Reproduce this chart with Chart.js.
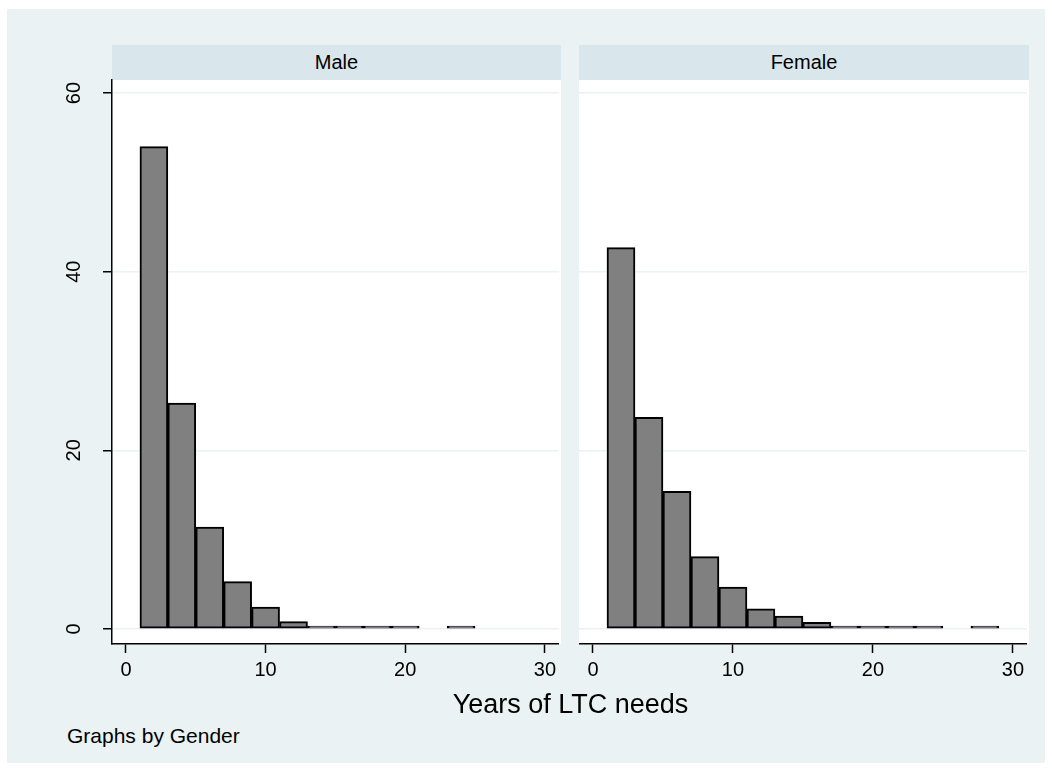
<!DOCTYPE html>
<html><head><meta charset="utf-8">
<script src="https://cdn.jsdelivr.net/npm/chart.js@4.4.1/dist/chart.umd.min.js"></script>
<style>
html,body{margin:0;padding:0;background:#fff;width:1052px;height:772px;overflow:hidden;font-family:"Liberation Sans",Arial,sans-serif;}
#bg{position:absolute;left:7px;top:9px;width:1038px;height:754px;background:#eaf2f3;}
.strip{position:absolute;top:45px;height:35px;background:#d9e6eb;color:#000;font-size:20px;text-align:center;line-height:35px;}
.plotbg{position:absolute;top:80px;height:564px;background:#fff;}
canvas{position:absolute;}
.txt{position:absolute;color:#000;white-space:nowrap;}
</style></head><body>
<div id="bg"></div>
<div class="strip" style="left:112px;width:449px">Male</div>
<div class="strip" style="left:579px;width:450px">Female</div>
<div class="plotbg" style="left:112px;width:449px"></div>
<div class="plotbg" style="left:579px;width:450px"></div>
<canvas id="male" width="541" height="630" style="left:20px;top:70px"></canvas>
<canvas id="female" width="450" height="630" style="left:579px;top:70px"></canvas>
<div class="txt" style="left:112px;width:917px;top:689px;text-align:center;font-size:27px;line-height:30px">Years of LTC needs</div>
<div class="txt" style="left:67px;top:724px;font-size:21px;line-height:24px">Graphs by Gender</div>
<script>
// Histogram bins (left edges, width 2 years)
const binLeft = [1, 3, 5, 7, 9, 11, 13, 15, 17, 19, 21, 23, 25, 27];
const binWidth = 2;
// Percent of persons per bin
const maleValues   = [54, 25.3, 11.4, 5.3, 2.45, 0.82, 0.33, 0.1, 0.1, 0.1, null, 0.1, null, null];
const femaleValues = [42.7, 23.7, 15.4, 8.1, 4.7, 2.27, 1.45, 0.75, 0.22, 0.15, 0.1, 0.1, null, 0.1];
const xTicks = [0, 10, 20, 30];
const yTicks = [0, 20, 40, 60];

Chart.defaults.font.family = '"Liberation Sans", Arial, sans-serif';
Chart.defaults.color = '#000';

const yLabelPlugin = {
  id: 'yLabels',
  afterDraw(chart) {
    const s = chart.scales.y, ctx = chart.ctx;
    ctx.save();
    ctx.fillStyle = '#000';
    ctx.font = '20px "Liberation Sans", Arial, sans-serif';
    ctx.textAlign = 'center';
    ctx.textBaseline = 'middle';
    s.ticks.forEach(t => {
      const y = s.getPixelForValue(t.value);
      ctx.save();
      ctx.translate(s.right - 39, y);
      ctx.rotate(-Math.PI / 2);
      ctx.fillText(String(t.value), 0, 1);
      ctx.restore();
    });
    ctx.restore();
  }
};

function makeChart(id, values, showY) {
  return new Chart(document.getElementById(id), {
    type: 'bar',
    data: {
      datasets: [{
        data: binLeft.map((b, i) => ({ x: b + binWidth / 2, y: values[i] })),
        backgroundColor: '#808080',
        borderColor: '#000',
        borderWidth: 2,
        borderSkipped: false,
        barPercentage: 1,
        categoryPercentage: 1,
        minBarLength: 3
      }]
    },
    options: {
      responsive: false,
      animation: false,
      devicePixelRatio: 1,
      layout: { padding: { top: 10, left: 0, right: 0, bottom: 0 } },
      plugins: { legend: { display: false }, tooltip: { enabled: false }, title: { display: false } },
      scales: {
        x: {
          type: 'linear', min: -1, max: 31, offset: false,
          afterBuildTicks: s => { s.ticks = xTicks.map(v => ({ value: v })); },
          afterFit: s => { s.height = 56; },
          grid: { display: true, offset: false, drawOnChartArea: false, drawTicks: true, tickLength: 9, tickColor: '#000', tickWidth: 1.5 },
          border: { display: true, color: '#000', width: 1.5 },
          ticks: { color: '#000', font: { size: 20 }, padding: 5, maxRotation: 0, minRotation: 0, autoSkip: false }
        },
        y: {
          type: 'linear', min: -1.68, max: 61.46,
          afterBuildTicks: s => { s.ticks = yTicks.map(v => ({ value: v })); },
          afterFit: s => { s.width = showY ? 92 : 0; },
          grid: { color: '#eaf2f3', lineWidth: 1.5, drawTicks: showY, tickLength: 9, tickColor: '#000', tickWidth: 1.5 },
          border: { display: showY, color: '#000', width: 1.5 },
          ticks: { display: false }
        }
      }
    },
    plugins: showY ? [yLabelPlugin] : []
  });
}

makeChart('male', maleValues, true);
makeChart('female', femaleValues, false);
</script>
</body></html>
